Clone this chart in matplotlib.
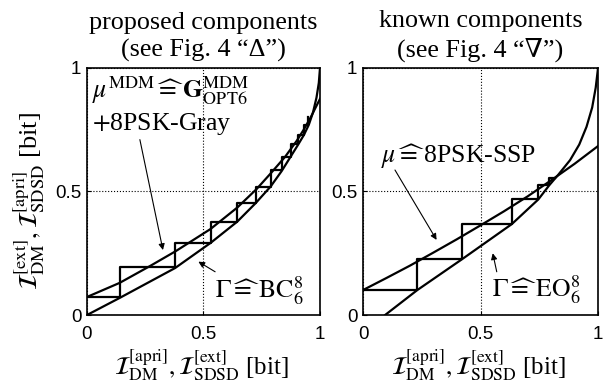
import matplotlib
matplotlib.use("Agg")
import matplotlib.pyplot as plt

plt.rcParams["mathtext.fontset"] = "stix"
plt.rcParams["font.family"] = ["Liberation Serif", "DejaVu Serif"]

# left panel: proposed components (MDM demapper + BC_6^8 decoder)
dm_left_x = [0, 0.14, 0.27, 0.38, 0.53, 0.645, 0.728, 0.79, 0.85, 0.90, 0.93, 0.96, 1.0]
dm_left_y = [0.073, 0.13, 0.198, 0.258, 0.348, 0.435, 0.51, 0.575, 0.64, 0.705, 0.75, 0.80, 0.875]
dec_left_x = [0, 0.142, 0.378, 0.532, 0.645, 0.724, 0.788, 0.835, 0.874, 0.907, 0.931, 0.952, 0.97, 0.985, 0.995, 1.0]
dec_left_y = [0, 0.07, 0.19, 0.293, 0.378, 0.453, 0.52, 0.582, 0.641, 0.691, 0.729, 0.77, 0.82, 0.88, 0.94, 1.0]
traj_left_x = [0, 0.142, 0.142, 0.378, 0.378, 0.532, 0.532, 0.645, 0.645, 0.724, 0.724, 0.788, 0.788,
               0.835, 0.835, 0.874, 0.874, 0.907, 0.907, 0.931, 0.931, 0.95, 0.95]
traj_left_y = [0.072, 0.072, 0.196, 0.196, 0.293, 0.293, 0.378, 0.378, 0.453, 0.453, 0.52, 0.52, 0.587,
               0.587, 0.641, 0.641, 0.691, 0.691, 0.729, 0.729, 0.769, 0.769, 0.80]

# right panel: known components (8PSK-SSP + EO_6^8)
dm_right_x = [0, 0.1, 0.2, 0.3, 0.4, 0.5, 0.6, 0.7, 0.8, 0.9, 1.0]
dm_right_y = [0.101, 0.15, 0.2, 0.253, 0.307, 0.363, 0.42, 0.48, 0.545, 0.612, 0.684]
dec_right_x = [0.094, 0.231, 0.42, 0.633, 0.746, 0.793, 0.83, 0.881, 0.92, 0.951, 0.975, 0.99, 1.0]
dec_right_y = [0, 0.101, 0.225, 0.368, 0.468, 0.526, 0.567, 0.627, 0.69, 0.762, 0.84, 0.92, 1.0]
traj_right_x = [0, 0.231, 0.231, 0.42, 0.42, 0.633, 0.633, 0.746, 0.746, 0.793, 0.793, 0.815]
traj_right_y = [0.101, 0.101, 0.225, 0.225, 0.368, 0.368, 0.468, 0.468, 0.526, 0.526, 0.553, 0.553]

ticks = [0, 0.5, 1]
tick_labels = ["0", "0.5", "1"]

titles = ["proposed components\n(see Fig. 4 \u201c\u0394\u201d)",
          "known components\n(see Fig. 4 \u201c\u2207\u201d)"]
xlabel = r"$\mathcal{I}_{\rm DM}^{\rm [apri]}, \mathcal{I}_{\rm SDSD}^{\rm [ext]}$ [bit]"
ylabel = r"$\mathcal{I}_{\rm DM}^{\rm [ext]}, \mathcal{I}_{\rm SDSD}^{\rm [apri]}$ [bit]"


def style(ax, title):
    ax.set_xlim(0, 1)
    ax.set_ylim(0, 1)
    ax.set_xticks(ticks)
    ax.set_yticks(ticks)
    ax.set_xticklabels(tick_labels, family="Liberation Sans")
    ax.set_yticklabels(tick_labels, family="Liberation Sans")
    ax.tick_params(direction="in", length=3, labelsize=13.5, width=0.8)
    ax.tick_params(axis="x", pad=8)
    ax.tick_params(axis="y", pad=4)
    ax.grid(True, ls=":", color="k", lw=0.8)
    for s in ax.spines.values():
        s.set_linewidth(1.2)
    ax.set_title(title, fontsize=18.8, pad=8, linespacing=1.3)
    ax.set_xlabel(xlabel, fontsize=18)
    ax.xaxis.set_label_coords(0.49, -0.13)


fig = plt.figure(figsize=(6.13, 3.85), dpi=100)
axL = fig.add_axes([0.1419, 0.1818, 0.3801, 0.6416])
axR = fig.add_axes([0.5922, 0.1818, 0.3834, 0.6416])

arrow = dict(arrowstyle="-|>", color="k", lw=0.8, mutation_scale=9, shrinkA=0, shrinkB=0)
fs = 18.5

axL.plot(dm_left_x, dm_left_y, "k", lw=1.6)
axL.plot(dec_left_x, dec_left_y, "k", lw=1.6)
axL.plot(traj_left_x, traj_left_y, "k", lw=1.6)
style(axL, titles[0])
axL.set_ylabel(ylabel, fontsize=19)
axL.yaxis.set_label_coords(-0.172, 0.46)
axL.text(0.02, 0.975, r"$\mu^{\rm MDM}\widehat{=}\,\mathbf{G}_{\rm OPT6}^{\rm MDM}$", fontsize=fs,
         va="top", ha="left")
axL.text(0.02, 0.75, r"$+$8PSK-Gray", fontsize=fs, va="baseline", ha="left")
axL.annotate("", xy=(0.326, 0.263), xytext=(0.227, 0.71), arrowprops=arrow)
axL.text(0.55, 0.1, r"$\Gamma\widehat{=}\,\mathrm{BC}_6^8$", fontsize=fs, va="center", ha="left")
axL.annotate("", xy=(0.478, 0.216), xytext=(0.55, 0.175), arrowprops=arrow)

axR.plot(dm_right_x, dm_right_y, "k", lw=1.6)
axR.plot(dec_right_x, dec_right_y, "k", lw=1.6)
axR.plot(traj_right_x, traj_right_y, "k", lw=1.6)
style(axR, titles[1])
axR.text(0.075, 0.64, r"$\mu\widehat{=}\,$8PSK-SSP", fontsize=fs, va="center", ha="left")
axR.annotate("", xy=(0.313, 0.304), xytext=(0.136, 0.587), arrowprops=arrow)
axR.text(0.55, 0.105, r"$\Gamma\widehat{=}\,\mathrm{EO}_6^8$", fontsize=fs, va="center", ha="left")
axR.annotate("", xy=(0.552, 0.25), xytext=(0.569, 0.175), arrowprops=arrow)

fig.savefig("out.png", dpi=100)
